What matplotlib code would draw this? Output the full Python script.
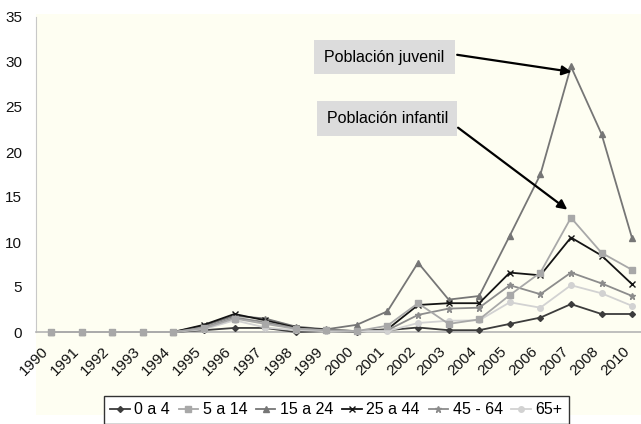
import matplotlib
matplotlib.use('Agg')
import matplotlib.pyplot as plt
from matplotlib.patches import Rectangle

plt.rcParams['font.family'] = ['Liberation Sans', 'DejaVu Sans']

# Años (2009 no aparece en el gráfico original)
years = ['1990', '1991', '1992', '1993', '1994', '1995', '1996', '1997', '1998', '1999',
         '2000', '2001', '2002', '2003', '2004', '2005', '2006', '2007', '2008', '2010']

g0_4 = [0, 0, 0, 0, 0, 0.2, 0.45, 0.45, 0.0, 0.1,
        0.05, 0.2, 0.5, 0.2, 0.2, 0.9, 1.6, 3.1, 2.0, 2.0]
g5_14 = [0, 0, 0, 0, 0, 0.4, 1.5, 0.9, 0.35, 0.2,
         0.1, 0.7, 3.2, 0.9, 1.4, 4.1, 6.6, 12.7, 8.8, 6.9]
g15_24 = [0, 0, 0, 0, 0, 0.7, 1.8, 1.5, 0.6, 0.3,
          0.8, 2.3, 7.7, 3.6, 4.0, 10.7, 17.5, 29.5, 22.0, 10.4]
g25_44 = [0, 0, 0, 0, 0, 0.8, 2.0, 1.3, 0.5, 0.25,
          0.1, 0.3, 3.0, 3.2, 3.2, 6.6, 6.3, 10.5, 8.5, 5.3]
g45_64 = [0, 0, 0, 0, 0, 0.5, 1.6, 1.1, 0.4, 0.2,
          0.1, 0.2, 1.9, 2.6, 2.7, 5.2, 4.2, 6.6, 5.4, 4.0]
g65 = [0, 0, 0, 0, 0, 0.3, 1.3, 0.5, 0.2, 0.1,
       0.1, 0.1, 1.0, 1.25, 1.3, 3.3, 2.7, 5.2, 4.3, 2.9]

labels = ['0 a 4', '5 a 14', '15 a 24', '25 a 44', '45 - 64', '65+']
series = [g0_4, g5_14, g15_24, g25_44, g45_64, g65]
colors = ['#3c3c3c', '#a8a8a8', '#767676', '#141414', '#8c8c8c', '#d2d2d2']
markers = ['D', 's', '^', 'x', '*', 'o']
msizes = [3, 4, 4, 5, 5, 4]
zorders = [3, 8, 4, 5, 6, 7]

cream = '#fefef2'
W, H = 641, 424
fig = plt.figure(figsize=(6.41, 4.24), dpi=100)

# fondo crema del área del gráfico
fig.patches.append(Rectangle((36 / W, (H - 415) / H), 1 - 36 / W, (415 - 14) / H,
                             transform=fig.transFigure, facecolor=cream,
                             edgecolor='none', zorder=-5))

ax = fig.add_axes([36 / W, (H - 332) / H, (W - 36) / W, (332 - 17) / H])
ax.set_facecolor(cream)
ax.set_zorder(1)

x = list(range(len(years)))
for vals, lab, c, m, ms, z in zip(series, labels, colors, markers, msizes, zorders):
    ax.plot(x, vals, color=c, marker=m, markersize=ms, linewidth=1.3,
            markeredgewidth=1.0, label=lab, zorder=z, clip_on=False)

ax.set_ylim(0, 35)
ax.set_xlim(-0.49, 19.29)
ax.set_yticks(range(0, 36, 5))
ax.set_xticks(x)
ax.set_xticklabels(years, rotation=45, ha='right', rotation_mode='default')
ax.tick_params(axis='both', length=0, labelsize=11, colors='#111111')
ax.tick_params(axis='y', pad=10)
ax.tick_params(axis='x', pad=9)

for s in ['top', 'right']:
    ax.spines[s].set_visible(False)
ax.spines['left'].set_color('#c8c8c8')
ax.spines['bottom'].set_color('#b4b4b4')
ax.spines['bottom'].set_linewidth(1.2)

# cuadros de anotación
box_kw = dict(facecolor='#dcdcdc', edgecolor='none', zorder=9)
ax.add_patch(Rectangle((8.6, 28.7), 4.61, 3.75, **box_kw))
ax.text(10.9, 30.55, 'Población juvenil', ha='center', va='center', fontsize=11.5, zorder=10)
ax.add_patch(Rectangle((8.7, 21.8), 4.58, 3.9, **box_kw))
ax.text(10.99, 23.75, 'Población infantil', ha='center', va='center', fontsize=11.5, zorder=10)

arrow_kw = dict(arrowstyle='-|>', color='black', lw=1.6, mutation_scale=14, shrinkA=0, shrinkB=0)
ax.annotate('', xy=(17.02, 28.9), xytext=(13.28, 30.8), arrowprops=arrow_kw, zorder=11)
ax.annotate('', xy=(16.88, 13.6), xytext=(13.31, 22.7), arrowprops=arrow_kw, zorder=11)

leg = fig.legend(loc='upper left', bbox_to_anchor=(104 / W, (H - 396) / H), ncol=6,
                 fontsize=11.5, frameon=True, fancybox=False, handlelength=1.2,
                 handletextpad=0.3, columnspacing=0.55, borderpad=0.4, borderaxespad=0)
leg.get_frame().set_edgecolor('#333333')
leg.get_frame().set_linewidth(1.0)
leg.get_frame().set_facecolor('white')
leg.get_frame().set_alpha(1)

fig.savefig('out.png', dpi=100)
